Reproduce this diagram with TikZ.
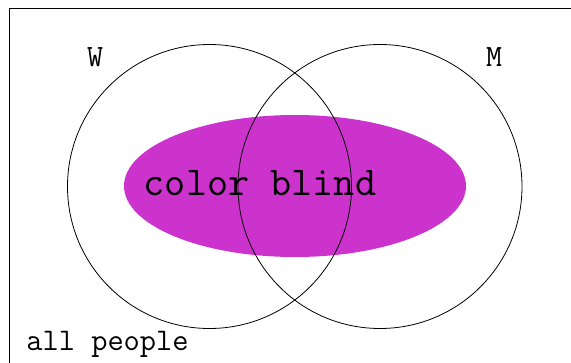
\documentclass[tikz,border=0pt]{standalone}
\usetikzlibrary{shapes.geometric}
\definecolor{blindpurple}{HTML}{CC33CC}

\begin{document}
\begin{tikzpicture}[x=1pt, y=1pt, line width=0.8pt,
                    set/.style={draw, circle, minimum size=284pt, inner sep=0pt},
                    lbl/.style={inner sep=0pt, anchor=base}]
    \useasboundingbox (0,0) rectangle (571,362);
    \draw (9,-20) rectangle (600,354);
    \node[ellipse, fill=blindpurple, minimum width=342pt, minimum height=142pt, inner sep=0pt] (cb) at (295,176) {};
    \node[set] (w) at (209.5,175.5) {};
    \node[set] (m) at (380,175.5) {};
    \node[lbl, font=\ttfamily\fontsize{41}{41}\selectfont] (cbl) at (260,166) {color blind};
    \node[lbl, font=\ttfamily\fontsize{31}{31}\selectfont] (wl) at (95,295) {W};
    \node[lbl, font=\ttfamily\fontsize{31}{31}\selectfont] (ml) at (494,295) {M};
    \node[lbl, anchor=base west, font=\ttfamily\fontsize{31.5}{31.5}\selectfont] (all) at (26,12) {all people};
  \end{tikzpicture}
\end{document}
